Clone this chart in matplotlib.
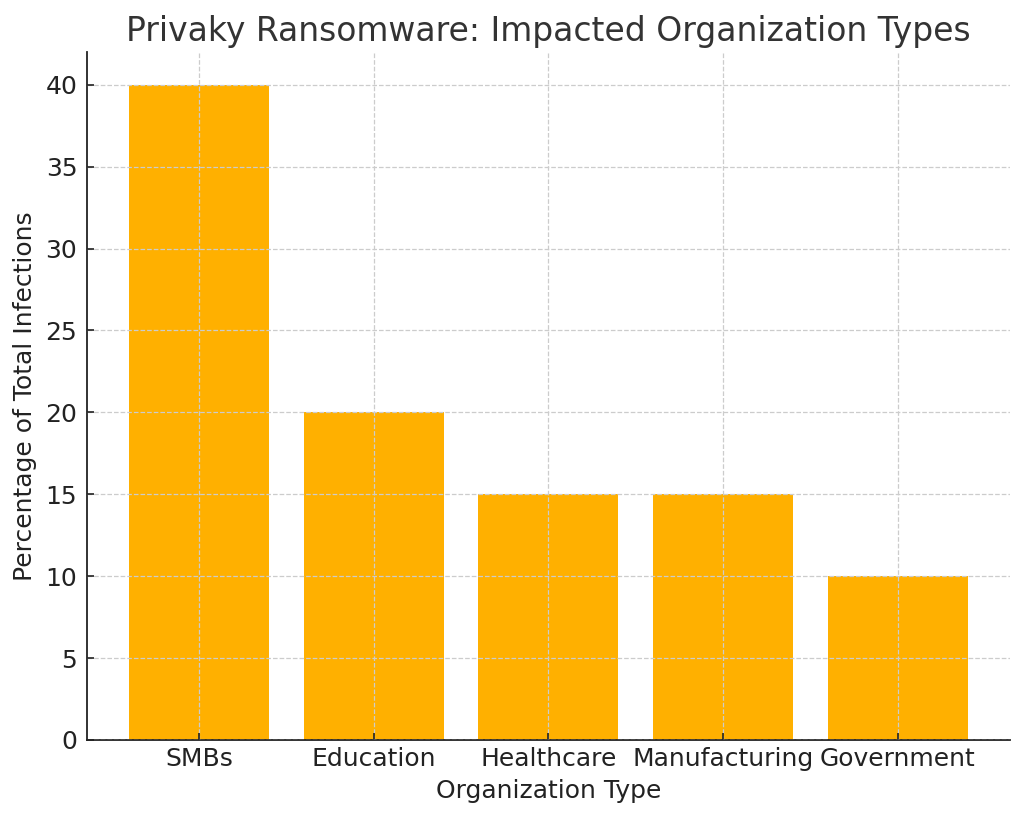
import matplotlib
matplotlib.use("Agg")
import matplotlib.pyplot as plt

categories = ["SMBs", "Education", "Healthcare", "Manufacturing", "Government"]
values = [40, 20, 15, 15, 10]

fig = plt.figure(figsize=(10.24, 8.19), dpi=100)
ax = fig.add_axes([0.085, 0.0965, 0.901, 0.84])
ax.bar(categories, values, color="#FFB000", width=0.8, zorder=1)
ax.grid(True, linestyle="--", color="#cccccc", linewidth=0.9, zorder=2)
ax.set_axisbelow(False)
ax.set_ylim(0, 42)
ax.spines["top"].set_visible(False)
ax.spines["right"].set_visible(False)
for s in ("left", "bottom"):
    ax.spines[s].set_linewidth(1.3)
    ax.spines[s].set_color("#222222")
ax.tick_params(direction="in", labelsize=18, colors="#222222", length=5, width=1.2)
ax.tick_params(axis="y", pad=7)
ax.tick_params(axis="x", pad=5)
ax.set_xlabel("Organization Type", fontsize=18, color="#222222", labelpad=6)
ax.set_ylabel("Percentage of Total Infections", fontsize=18, color="#222222", labelpad=6)
ax.set_title("Privaky Ransomware: Impacted Organization Types", fontsize=23.8, color="#333333", pad=8)
fig.savefig("out.png", dpi=100)
